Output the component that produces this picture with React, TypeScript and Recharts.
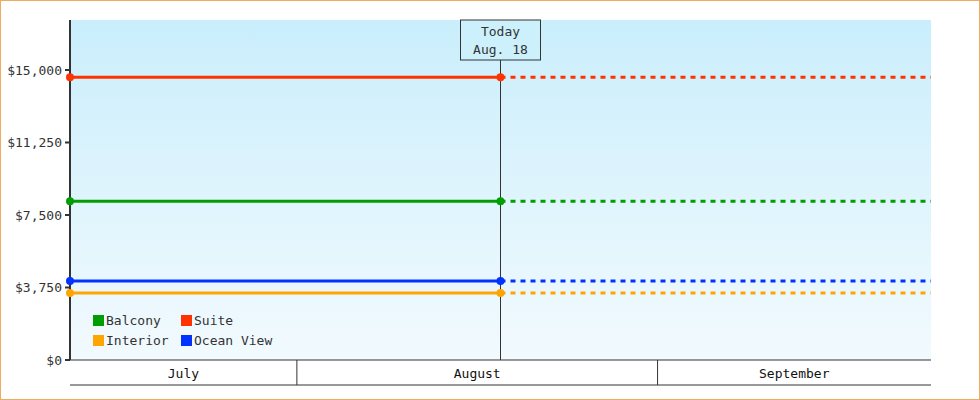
import React from 'react';
import {
  LineChart,
  Line,
  XAxis,
  YAxis,
  CartesianGrid,
  ReferenceLine,
} from 'recharts';

// days counted from July 1 (0 = Jul 1, 00:00)
const pointDays = [11.5, 48.5, 85.5]; // window start, today, window end
const todayDay = 48.5;
const monthBoundaries = [31, 62];
const monthLabelDays = [21.25, 46.5, 73.75];
const monthLabels = ['July', 'August', 'September'];

const yTicks = [0, 3750, 7500, 11250, 15000];

const seriesNames = ['Balcony', 'Suite', 'Interior', 'Ocean View'];
const seriesKeys = ['balcony', 'suite', 'interior', 'oceanView'];
const seriesColors = ['#009e00', '#ff3300', '#ffa500', '#0033ff'];

const balconyPrices = [8210, 8210, 8210];
const suitePrices = [14620, 14620, 14620];
const interiorPrices = [3465, 3465, 3465];
const oceanViewPrices = [4085, 4085, 4085];

const priceLists = [balconyPrices, suitePrices, interiorPrices, oceanViewPrices];

// solid part runs up to today, dotted projection from today on
const chartData = pointDays.map((day, i) => {
  const row: any = { day };
  seriesKeys.forEach((k, s) => {
    if (i <= 1) row[k] = priceLists[s][i];
    if (i >= 1) row[k + 'Proj'] = priceLists[s][i];
  });
  return row;
});

const FONT = '"DejaVu Sans Mono", monospace';
const INK = '#333333';

const fmtMoney = (v: number) => '$' + v.toLocaleString('en-US');

const MonthTick = (props: any) => {
  const { x, y, payload } = props;
  const v = payload.value;
  if (monthBoundaries.includes(v)) {
    return <line x1={x} x2={x} y1={y} y2={y + 25} stroke={INK} strokeWidth={1} />;
  }
  const idx = monthLabelDays.indexOf(v);
  if (idx < 0) return null;
  return (
    <text x={x} y={y + 18} textAnchor="middle" fill="#111" fontSize={13} fontFamily={FONT}>
      {monthLabels[idx]}
    </text>
  );
};

const TodayLabel = (props: any) => {
  const vb = props.viewBox || {};
  const cx = vb.x;
  const top = vb.y;
  return (
    <g>
      <rect x={cx - 40} y={top} width={80} height={40} fill="#ccf0fc" stroke={INK} strokeWidth={1} />
      <text x={cx} y={top + 16} textAnchor="middle" fill={INK} fontSize={13} fontFamily={FONT}>
        Today
      </text>
      <text x={cx} y={top + 34} textAnchor="middle" fill={INK} fontSize={13} fontFamily={FONT}>
        Aug. 18
      </text>
    </g>
  );
};

const LegendBox = () => (
  <div
    style={{
      position: 'absolute',
      left: 93,
      top: 312,
      display: 'grid',
      gridTemplateColumns: '88px 110px',
      rowGap: 4,
      fontFamily: FONT,
      fontSize: 13,
      color: INK,
    }}
  >
    {seriesNames.map((name, i) => (
      <div key={name} style={{ display: 'flex', alignItems: 'center', height: 16 }}>
        <span
          style={{
            display: 'inline-block',
            width: 11,
            height: 11,
            background: seriesColors[i],
            marginRight: 2,
          }}
        />
        {name}
      </div>
    ))}
  </div>
);

export default function App() {
  return (
    <div style={{ position: 'absolute', left: 0, top: 0, width: 980, height: 400, background: '#fff' }}>
      <LineChart
        width={980}
        height={400}
        data={chartData}
        margin={{ top: 20, right: 49, left: 0, bottom: 14 }}
        style={{ fontFamily: FONT }}
      >
        <defs>
          <linearGradient id="plotBg" x1="0" y1="0" x2="0" y2="1">
            <stop offset="0%" stopColor="#caeefc" />
            <stop offset="100%" stopColor="#f2fafe" />
          </linearGradient>
        </defs>
        <CartesianGrid horizontal={false} vertical={false} fill="url(#plotBg)" stroke="none" />
        <XAxis
          dataKey="day"
          type="number"
          domain={[pointDays[0], pointDays[2]]}
          ticks={[...monthBoundaries, ...monthLabelDays]}
          interval={0}
          height={25}
          tickSize={0}
          tickMargin={0}
          tickLine={false}
          axisLine={{ stroke: INK, strokeWidth: 1 }}
          tick={<MonthTick />}
        />
        <XAxis
          xAxisId="base"
          dataKey="day"
          type="number"
          domain={[pointDays[0], pointDays[2]]}
          height={1}
          tick={false}
          tickLine={false}
          axisLine={{ stroke: INK, strokeWidth: 1 }}
        />
        <YAxis
          type="number"
          domain={[0, 17586]}
          ticks={yTicks}
          interval={0}
          width={70}
          tickSize={5}
          tickMargin={3}
          tickFormatter={fmtMoney}
          axisLine={{ stroke: INK, strokeWidth: 2 }}
          tickLine={{ stroke: INK, strokeWidth: 2 }}
          tick={{ fill: INK, fontSize: 13, fontFamily: FONT }}
        />
        <ReferenceLine x={todayDay} stroke={INK} strokeWidth={1} label={<TodayLabel />} />
        {seriesKeys.map((k, i) => (
          <Line
            key={k}
            dataKey={k}
            type="linear"
            stroke={seriesColors[i]}
            strokeWidth={3}
            dot={{ r: 4, fill: seriesColors[i], stroke: 'none' }}
            activeDot={false}
            connectNulls={false}
            isAnimationActive={false}
          />
        ))}
        {seriesKeys.map((k, i) => (
          <Line
            key={k + 'Proj'}
            dataKey={k + 'Proj'}
            type="linear"
            stroke={seriesColors[i]}
            strokeWidth={3}
            strokeDasharray="5 5"
            dot={false}
            activeDot={false}
            isAnimationActive={false}
          />
        ))}
      </LineChart>
      <LegendBox />
      <div
        style={{
          position: 'absolute',
          left: 0,
          top: 0,
          width: 980,
          height: 400,
          boxSizing: 'border-box',
          border: '1px solid #efab62',
          pointerEvents: 'none',
        }}
      />
    </div>
  );
}
